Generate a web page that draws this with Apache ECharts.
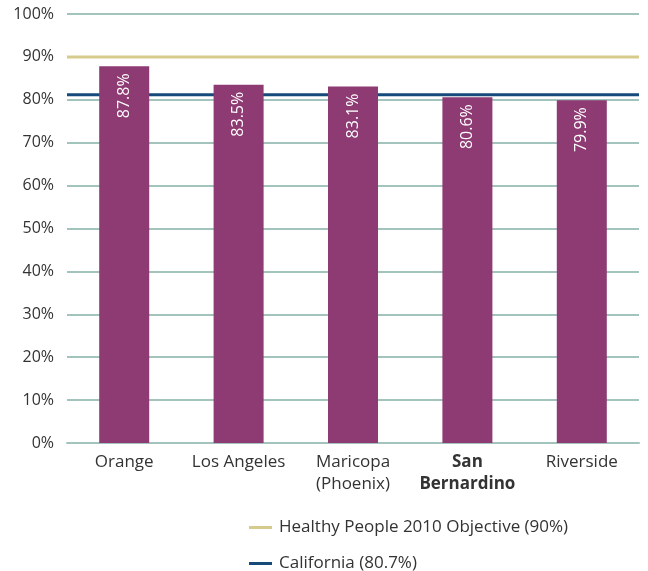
<!DOCTYPE html>
<html><head><meta charset="utf-8">
<script src="https://cdn.jsdelivr.net/npm/echarts@6/dist/echarts.min.js"></script>
<style>html,body{margin:0;padding:0;background:#fff}#c{width:648px;height:571px}</style>
</head><body><div id="c"></div>
<script>
var categories = ['Orange', 'Los Angeles', 'Maricopa\n(Phoenix)', 'San\nBernardino', 'Riverside'];
var values = [87.8, 83.5, 83.1, 80.6, 79.9];
var objectiveValue = [90];
var californiaValue = [81.2];
var legendNames = ['Healthy People 2010 Objective (90%)', 'California (80.7%)'];
var FONT = '"Open Sans", "Noto Sans", sans-serif';
var chart = echarts.init(document.getElementById('c'));
function leg(name, top) {
  return {
    left: 249, top: top, padding: 0, itemWidth: 23, itemHeight: 3, icon: 'rect', itemGap: 0,
    textStyle: {fontSize: 17, color: '#333', fontFamily: FONT, padding: [0, 0, 0, 2]},
    data: [name]
  };
}
function refLine(name, v, color) {
  return {
    name: name, type: 'line', xAxisIndex: 1, z: 1, symbol: 'none', silent: true,
    data: [[0, v], [1, v]],
    itemStyle: {color: color}, lineStyle: {color: color, width: 3}
  };
}
chart.setOption({
  animation: false,
  textStyle: {fontFamily: FONT},
  grid: {left: 67, right: 9, top: 14, bottom: 128},
  legend: [leg(legendNames[0], 519), leg(legendNames[1], 555)],
  xAxis: [{
    type: 'category', data: categories,
    axisLine: {lineStyle: {color: '#A3C4BC', width: 2}},
    axisTick: {show: false},
    axisLabel: {
      interval: 0,
      fontSize: 17, color: '#333', margin: 8, lineHeight: 22,
      formatter: function (v) { return v.indexOf('San') === 0 ? '{b|' + v.replace('\n', '}\n{b|') + '}' : v; },
      rich: {b: {fontWeight: 'bold', fontSize: 17, color: '#333', lineHeight: 22}}
    }
  }, {
    type: 'value', min: 0, max: 1, show: false
  }],
  yAxis: {
    type: 'value', min: 0, max: 100, interval: 10,
    axisLine: {show: false}, axisTick: {show: false},
    axisLabel: {fontSize: 16, color: '#333', margin: 13, formatter: '{value}%'},
    splitLine: {lineStyle: {color: '#A3C4BC', width: 2}}
  },
  series: [
    {
      type: 'bar', data: values, barWidth: 50, z: 10,
      itemStyle: {color: '#8E3A73'},
      label: {
        show: true, position: 'insideTop', rotate: 90, align: 'right', verticalAlign: 'middle',
        distance: 7, color: '#fff', fontSize: 16, formatter: function (p) { return p.value.toFixed(1) + '%'; }
      }
    },
    refLine(legendNames[0], objectiveValue[0], '#D6CB8C'),
    refLine(legendNames[1], californiaValue[0], '#154A7A')
  ]
});
</script></body></html>
